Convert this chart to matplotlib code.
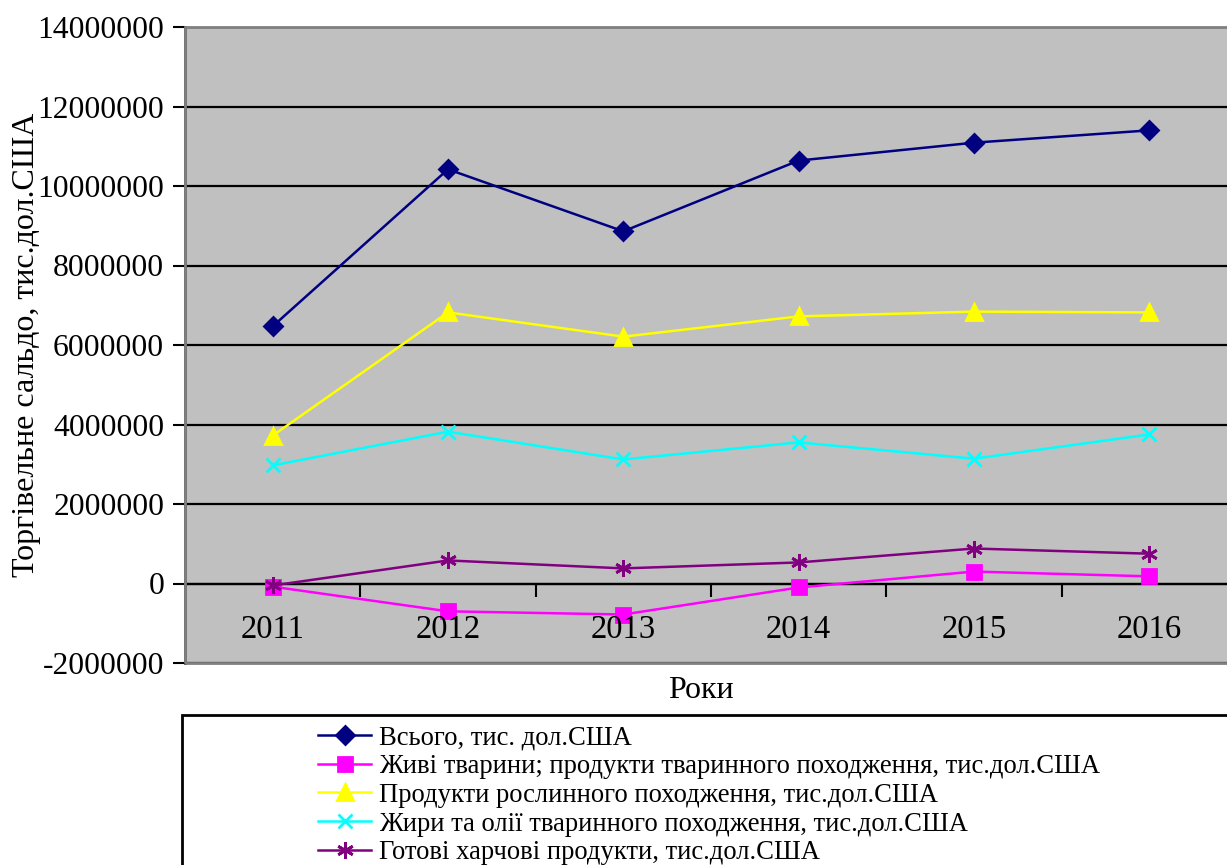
import matplotlib.pyplot as plt
from matplotlib.patches import Rectangle

plt.rcParams["font.family"] = ["Liberation Serif", "DejaVu Serif"]

years = ["2011", "2012", "2013", "2014", "2015", "2016"]

total = [6470000, 10420000, 8860000, 10640000, 11090000, 11400000]
live_animals = [-80000, -700000, -780000, -100000, 300000, 180000]
plant_products = [3720000, 6820000, 6210000, 6720000, 6840000, 6820000]
fats_oils = [2970000, 3820000, 3120000, 3550000, 3140000, 3750000]
prepared_food = [-50000, 580000, 380000, 530000, 880000, 750000]

labels = [
    "Всього, тис. дол.США",
    "Живі тварини; продукти тваринного походження, тис.дол.США",
    "Продукти рослинного походження, тис.дол.США",
    "Жири та олії тваринного походження, тис.дол.США",
    "Готові харчові продукти, тис.дол.США",
]
y_ticks = list(range(-2000000, 14000001, 2000000))

W, H = 1227, 865
fig = plt.figure(figsize=(W / 100, H / 100), dpi=100)
ax = fig.add_axes([185 / W, 1 - 663 / H, (1237 - 185) / W, (663 - 27) / H])
ax.set_facecolor("#c0c0c0")

x = list(range(len(years)))
series = [
    (total, "#000080", "D", 9, "#000080"),
    (live_animals, "#ff00ff", "s", 10, "#ff00ff"),
    (plant_products, "#ffff00", "^", 11, "#ffff00"),
    (fats_oils, "#00ffff", "x", 10, "#00ffff"),
    (prepared_food, "#800080", (6, 2, 0), 12, "#800080"),
]
handles = []
for vals, col, mk, ms, mc in series:
    (h,) = ax.plot(x, vals, color=col, lw=1.8, marker=mk, ms=ms,
                   mfc=mc, mec=mc, mew=2, zorder=3)
    handles.append(h)

ax.set_xlim(-0.5, 5.5)
ax.set_ylim(-2000000, 14000000)
ax.set_yticks(y_ticks)
ax.set_yticklabels([str(v) for v in y_ticks], fontsize=22.8)
ax.tick_params(axis="y", length=9, width=1.5, direction="out", pad=6)
ax.yaxis.grid(True, color="black", lw=1.6)
ax.set_axisbelow(True)

ax.spines["bottom"].set_position(("data", 0))
ax.spines["bottom"].set_linewidth(1.6)
ax.spines["left"].set_linewidth(1.8)
for s in ("top", "right"):
    ax.spines[s].set_visible(False)
ax.set_xticks([i + 0.5 for i in x[:-1]])
ax.set_xticklabels([])
ax.tick_params(axis="x", length=9, width=1.5, direction="out")
for i, yr in enumerate(years):
    ax.text(i, -1170000, yr, ha="center", va="center", fontsize=23.5)

ax.add_patch(Rectangle((0, 0), 1, 1, transform=ax.transAxes, fill=False,
                       ec="#808080", lw=2, zorder=4, clip_on=False))

ax.set_ylabel("Торгівельне сальдо, тис.дол.США", fontsize=23, labelpad=2)
ax.yaxis.set_label_coords(-0.137, 0.5)
fig.text(701 / W, 1 - 690 / H, "Роки", ha="center", va="center", fontsize=23)

fig.patches.append(Rectangle((182 / W, -0.05), 1.1, 0.05 + (865 - 715) / H,
                             transform=fig.transFigure, fill=False,
                             ec="black", lw=2))
fig.legend(handles, labels, loc="upper left", bbox_to_anchor=(318 / W, 1 - 725 / H),
           frameon=False, fontsize=19.2, handlelength=2.0, handletextpad=0.3,
           borderpad=0, borderaxespad=0, labelspacing=0.145)

fig.savefig("out.png", dpi=100)
